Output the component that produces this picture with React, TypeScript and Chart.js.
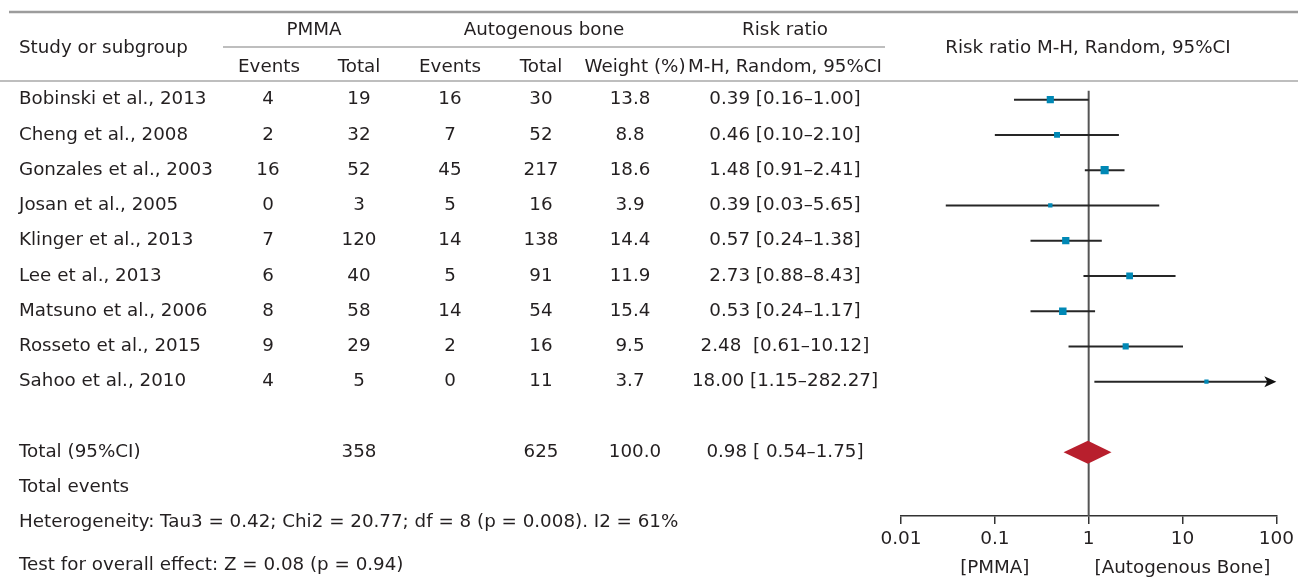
import React, { useEffect, useRef } from "react";
import { Chart, registerables } from "chart.js";

Chart.register(...registerables);

const studies = [
  "Bobinski et al., 2013",
  "Cheng et al., 2008",
  "Gonzales et al., 2003",
  "Josan et al., 2005",
  "Klinger et al., 2013",
  "Lee et al., 2013",
  "Matsuno et al., 2006",
  "Rosseto et al., 2015",
  "Sahoo et al., 2010",
];
const pmmaEvents = [4, 2, 16, 0, 7, 6, 8, 9, 4];
const pmmaTotal = [19, 32, 52, 3, 120, 40, 58, 29, 5];
const autoEvents = [16, 7, 45, 5, 14, 5, 14, 2, 0];
const autoTotal = [30, 52, 217, 16, 138, 91, 54, 16, 11];
const weights = [13.8, 8.8, 18.6, 3.9, 14.4, 11.9, 15.4, 9.5, 3.7];
const riskRatio = [0.39, 0.46, 1.48, 0.39, 0.57, 2.73, 0.53, 2.48, 18.0];
const ciLow = [0.16, 0.1, 0.91, 0.03, 0.24, 0.88, 0.24, 0.61, 1.15];
const ciHigh = [1.0, 2.1, 2.41, 5.65, 1.38, 8.43, 1.17, 10.12, 282.27];
const rrLabels = [
  "0.39 [0.16–1.00]",
  "0.46 [0.10–2.10]",
  "1.48 [0.91–2.41]",
  "0.39 [0.03–5.65]",
  "0.57 [0.24–1.38]",
  "2.73 [0.88–8.43]",
  "0.53 [0.24–1.17]",
  "2.48  [0.61–10.12]",
  "18.00 [1.15–282.27]",
];
const totalPmma = 358;
const totalAuto = 625;
const totalWeight = "100.0";
const totalRR = 0.98;
const totalLow = 0.54;
const totalHigh = 1.75;
const totalLabel = "0.98 [ 0.54–1.75]";
const xTicks = [0.01, 0.1, 1, 10, 100];
const heterogeneityText =
  "Heterogeneity: Tau3 = 0.42; Chi2 = 20.77; df = 8 (p = 0.008). I2 = 61%";
const overallText = "Test for overall effect: Z = 0.08 (p = 0.94)";

const W = 1298;
const H = 579;
const FONT = "'DejaVu Sans', sans-serif";
const TEXT = "#231f20";

const tablePlugin = {
  id: "forestTable",
  beforeDatasetsDraw(chart: any) {
    const ctx = chart.ctx;
    const xs = chart.scales.x;
    const ys = chart.scales.y;
    const area = chart.chartArea;
    ctx.save();
    // rules
    ctx.strokeStyle = "#9c9c9c";
    ctx.lineWidth = 2.5;
    ctx.beginPath();
    ctx.moveTo(9, 12);
    ctx.lineTo(W, 12);
    ctx.stroke();
    ctx.strokeStyle = "#a8a8a8";
    ctx.lineWidth = 1.5;
    ctx.beginPath();
    ctx.moveTo(223, 47);
    ctx.lineTo(885, 47);
    ctx.stroke();
    ctx.beginPath();
    ctx.moveTo(0, 81);
    ctx.lineTo(W, 81);
    ctx.stroke();

    ctx.fillStyle = TEXT;
    ctx.font = `18.3px ${FONT}`;
    ctx.textBaseline = "middle";
    const txt = (s: string, x: number, y: number, align: CanvasTextAlign) => {
      ctx.textAlign = align;
      ctx.fillText(s, x, y);
    };
    // header
    txt("Study or subgroup", 19, 48, "left");
    txt("PMMA", 314, 30, "center");
    txt("Autogenous bone", 544, 30, "center");
    txt("Risk ratio", 785, 30, "center");
    txt("Events", 269, 67, "center");
    txt("Total", 359, 67, "center");
    txt("Events", 450, 67, "center");
    txt("Total", 541, 67, "center");
    txt("Weight (%)", 635, 67, "center");
    txt("M-H, Random, 95%CI", 785, 67, "center");
    txt("Risk ratio M-H, Random, 95%CI", 1088, 48, "center");

    // rows
    studies.forEach((s, i) => {
      const y = ys.getPixelForValue(i);
      txt(s, 19, y, "left");
      txt(String(pmmaEvents[i]), 268, y, "center");
      txt(String(pmmaTotal[i]), 359, y, "center");
      txt(String(autoEvents[i]), 450, y, "center");
      txt(String(autoTotal[i]), 541, y, "center");
      txt(weights[i].toFixed(1), 630, y, "center");
      txt(rrLabels[i], 785, y, "center");
    });
    const yt = ys.getPixelForValue(10);
    txt("Total (95%CI)", 19, yt, "left");
    txt(String(totalPmma), 359, yt, "center");
    txt(String(totalAuto), 541, yt, "center");
    txt(totalWeight, 635, yt, "center");
    txt(totalLabel, 785, yt, "center");
    txt("Total events", 19, ys.getPixelForValue(11), "left");
    txt(heterogeneityText, 19, ys.getPixelForValue(12), "left");
    txt(overallText, 19, ys.getPixelForValue(13.22), "left");
    txt("[PMMA]", xs.getPixelForValue(0.1), 568, "center");
    txt("[Autogenous Bone]", xs.getPixelForValue(10), 568, "center");

    // line of no effect
    const x1 = xs.getPixelForValue(1);
    ctx.strokeStyle = "#555";
    ctx.lineWidth = 2;
    ctx.beginPath();
    ctx.moveTo(x1, ys.getPixelForValue(-0.25));
    ctx.lineTo(x1, area.bottom);
    ctx.stroke();

    // whiskers
    const xmax = xs.max;
    ctx.strokeStyle = "#262626";
    ctx.fillStyle = "#111";
    ctx.lineWidth = 2;
    studies.forEach((_, i) => {
      const y = ys.getPixelForValue(i);
      const a = xs.getPixelForValue(ciLow[i]);
      const over = ciHigh[i] > xmax;
      const tip = xs.getPixelForValue(Math.min(ciHigh[i], xmax));
      const b = over ? tip - 8 : tip;
      ctx.beginPath();
      ctx.moveTo(a, y);
      ctx.lineTo(b, y);
      ctx.stroke();
      if (over) {
        ctx.beginPath();
        ctx.moveTo(tip, y);
        ctx.lineTo(tip - 12, y - 5.5);
        ctx.lineTo(tip - 9, y);
        ctx.lineTo(tip - 12, y + 5.5);
        ctx.closePath();
        ctx.fill();
      }
    });

    // diamond
    const dl = xs.getPixelForValue(totalLow);
    const dr = xs.getPixelForValue(totalHigh);
    const dc = xs.getPixelForValue(totalRR);
    ctx.fillStyle = "#b81f2d";
    ctx.beginPath();
    ctx.moveTo(dl, yt);
    ctx.lineTo(dc, yt - 11.5);
    ctx.lineTo(dr, yt);
    ctx.lineTo(dc, yt + 11.5);
    ctx.closePath();
    ctx.fill();
    ctx.restore();
  },
};

export default function App() {
  const ref = useRef<HTMLCanvasElement | null>(null);
  useEffect(() => {
    document.body.style.margin = "0";
    const canvas = ref.current;
    if (!canvas) return;
    const chart = new Chart(canvas, {
      type: "scatter",
      data: {
        datasets: [
          {
            label: "Risk ratio",
            data: riskRatio.map((v, i) => ({ x: v, y: i })),
            pointStyle: "rect",
            pointRadius: weights.map((w) => (1.2 + 1.6 * Math.sqrt(w)) / Math.SQRT2),
            backgroundColor: "#0088b5",
            borderWidth: 0,
          },
        ],
      },
      options: {
        animation: false,
        responsive: false,
        events: [],
        layout: { padding: { left: 901, right: 20, top: 82, bottom: 0 } },
        plugins: {
          legend: { display: false },
          tooltip: { enabled: false },
        },
        scales: {
          x: {
            type: "logarithmic",
            min: 0.01,
            max: 100,
            afterBuildTicks: (s: any) => {
              s.ticks = xTicks.map((v) => ({ value: v }));
            },
            afterFit: (s: any) => {
              s.height = H - 516;
            },
            border: { display: true, color: "#333", width: 1.5 },
            grid: {
              display: true,
              drawOnChartArea: false,
              drawTicks: true,
              tickLength: 8,
              color: "#333",
              lineWidth: 1.5,
            },
            ticks: {
              autoSkip: false,
              maxRotation: 0,
              padding: 4,
              color: TEXT,
              font: { family: FONT, size: 18.5 },
              callback: (v: any) => String(v),
            },
          },
          y: {
            type: "linear",
            min: -0.5,
            max: 11.81,
            reverse: true,
            display: false,
          },
        },
      },
      plugins: [tablePlugin],
    } as any);
    return () => chart.destroy();
  }, []);
  return (
    <div style={{ width: W, height: H }}>
      <canvas ref={ref} width={W} height={H} style={{ display: "block" }} />
    </div>
  );
}
